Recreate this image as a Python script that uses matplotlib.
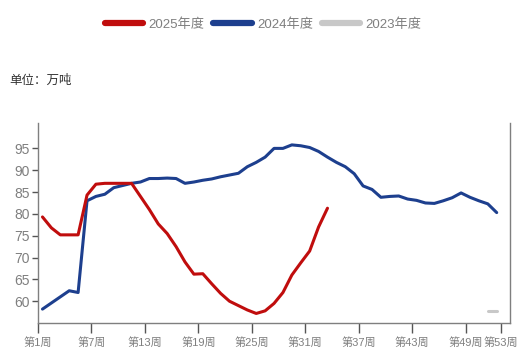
import matplotlib
matplotlib.use("Agg")
import matplotlib.pyplot as plt
from matplotlib.lines import Line2D
import numpy as np

# weekly inventory, unit: 10k tonnes
weeks_2025 = list(range(1, 34))
inv_2025 = [79.3, 76.8, 75.2, 75.2, 75.2, 84.3, 86.8, 87.0, 87.0, 87.0,
            87.0, 84.0, 81.0, 77.7, 75.5, 72.5, 69.0, 66.2, 66.3, 64.0,
            61.8, 60.0, 59.0, 58.0, 57.2, 57.8, 59.5, 62.0, 66.0, 68.8,
            71.5, 77.0, 81.3]

weeks_2024 = list(range(1, 53))
inv_2024 = [58.2, 59.6, 61.0, 62.4, 62.0, 83.0, 84.0, 84.5, 86.0, 86.5,
            87.0, 87.3, 88.1, 88.1, 88.2, 88.1, 87.0, 87.3, 87.7, 88.0,
            88.5, 88.9, 89.3, 90.8, 91.8, 93.0, 95.0, 95.0, 95.8, 95.6,
            95.2, 94.3, 93.0, 91.8, 90.8, 89.2, 86.4, 85.6, 83.8, 84.0,
            84.1, 83.4, 83.1, 82.5, 82.4, 83.0, 83.7, 84.8, 83.8, 83.0,
            82.3, 80.3]

weeks_2023 = [51, 52]
inv_2023 = [57.7, 57.7]

series_labels = ["2025年度", "2024年度", "2023年度"]
series_colors = ["#c00d0d", "#1d3f8e", "#c8c8c8"]

tick_weeks = [1, 7, 13, 19, 25, 31, 37, 43, 49, 53]
y_ticks = [60, 65, 70, 75, 80, 85, 90, 95]

FONTS = ["Liberation Sans", "Noto Sans CJK SC", "DejaVu Sans"]
plt.rcParams["font.family"] = FONTS
GREY = "#7f7f7f"

fig = plt.figure(figsize=(5.21, 3.63), dpi=100)
ax = fig.add_axes([0.073, 0.110, 0.906, 0.551])

# category axis: each week occupies one slot, points sit at slot centres
def xc(weeks):
    return np.asarray(weeks) - 0.5

ax.plot(xc(weeks_2023), inv_2023, color=series_colors[2], lw=2.2, solid_capstyle="round")
ax.plot(xc(weeks_2024), inv_2024, color=series_colors[1], lw=2.2,
        solid_capstyle="round", solid_joinstyle="round")
ax.plot(xc(weeks_2025), inv_2025, color=series_colors[0], lw=2.2,
        solid_capstyle="round", solid_joinstyle="round")

ax.set_xlim(0, 53)
ax.set_ylim(55, 100.8)
ax.set_xticks([w - 1 for w in tick_weeks])
ax.set_xticklabels([f"第{w}周" for w in tick_weeks])
ax.set_yticks(y_ticks)
ax.set_yticklabels([str(v) for v in y_ticks])

for side in ["left", "bottom", "right"]:
    ax.spines[side].set_color(GREY)
    ax.spines[side].set_linewidth(1.0)
ax.spines["top"].set_visible(False)
ax.tick_params(axis="x", direction="out", length=7, width=1, color="#555555",
               labelcolor=GREY, labelsize=8, pad=3)
ax.tick_params(axis="y", direction="out", length=4, width=1, color="#555555",
               labelcolor=GREY, labelsize=10, pad=2)

handles = [Line2D([], [], color=c, lw=4.5, solid_capstyle="round") for c in series_colors]
fig.legend(handles, series_labels, loc="upper center", bbox_to_anchor=(0.505, 0.982),
           ncol=3, frameon=False, handlelength=2.9, handletextpad=0.4,
           columnspacing=0.7, labelcolor=GREY, prop={"family": FONTS, "size": 9.5})

fig.text(0.018, 0.77, "单位：万吨", fontsize=9, color="#333333",
         family=["Noto Sans CJK SC", "DejaVu Sans"])

fig.savefig("out.png", dpi=100)
plt.close(fig)
